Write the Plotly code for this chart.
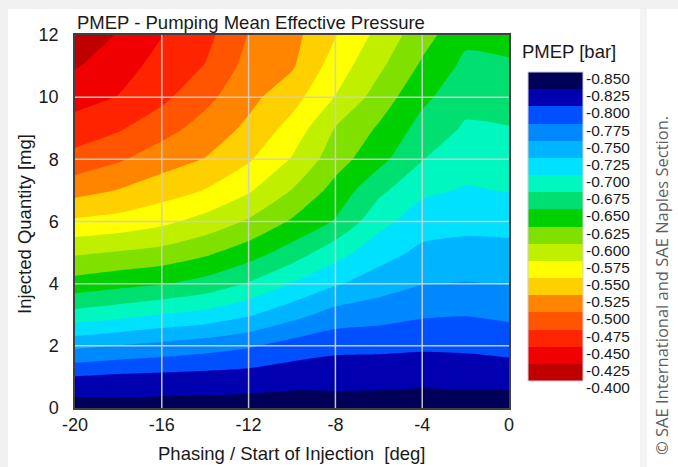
import plotly.graph_objects as go

# ---------------- data ----------------
x_deg = [-20, -18, -16, -14, -12, -10, -8, -6, -4, -2, 0]
y_mg = [0, 1, 2, 3, 4, 5, 6, 7, 8, 9, 10, 11, 12]

# PMEP [bar]; one row per injected quantity (y_mg), one column per phasing (x_deg)
pmep = [
    [-0.838, -0.835, -0.836, -0.836, -0.837, -0.838, -0.836, -0.837, -0.839, -0.838, -0.839],  # 0 mg
    [-0.801, -0.805, -0.807, -0.809, -0.811, -0.815, -0.816, -0.816, -0.817, -0.816, -0.815],  # 1
    [-0.744, -0.751, -0.757, -0.764, -0.772, -0.785, -0.793, -0.794, -0.796, -0.795, -0.791],  # 2
    [-0.684, -0.692, -0.701, -0.708, -0.722, -0.741, -0.760, -0.765, -0.772, -0.774, -0.770],  # 3
    [-0.635, -0.642, -0.648, -0.659, -0.677, -0.701, -0.722, -0.738, -0.749, -0.751, -0.749],  # 4
    [-0.596, -0.602, -0.608, -0.620, -0.638, -0.661, -0.690, -0.714, -0.731, -0.734, -0.733],  # 5
    [-0.554, -0.559, -0.569, -0.584, -0.603, -0.628, -0.652, -0.692, -0.713, -0.717, -0.716],  # 6
    [-0.516, -0.526, -0.538, -0.551, -0.572, -0.601, -0.634, -0.669, -0.695, -0.702, -0.699],  # 7
    [-0.484, -0.497, -0.514, -0.526, -0.547, -0.577, -0.614, -0.642, -0.674, -0.690, -0.687],  # 8
    [-0.460, -0.472, -0.490, -0.510, -0.530, -0.559, -0.601, -0.628, -0.659, -0.678, -0.676],  # 9
    [-0.441, -0.451, -0.469, -0.493, -0.518, -0.540, -0.576, -0.611, -0.644, -0.667, -0.664],  # 10
    [-0.423, -0.438, -0.460, -0.476, -0.509, -0.522, -0.562, -0.595, -0.629, -0.656, -0.653],  # 11
    [-0.405, -0.427, -0.449, -0.467, -0.501, -0.517, -0.549, -0.582, -0.615, -0.644, -0.642],  # 12
]

# contour levels / colour-bar labels (top of colour bar first)
level_values = [-0.850, -0.825, -0.800, -0.775, -0.750, -0.725, -0.700, -0.675, -0.650,
                -0.625, -0.600, -0.575, -0.550, -0.525, -0.500, -0.475, -0.450, -0.425, -0.400]
level_labels = ["-0.850", "-0.825", "-0.800", "-0.775", "-0.750", "-0.725", "-0.700", "-0.675",
                "-0.650", "-0.625", "-0.600", "-0.575", "-0.550", "-0.525", "-0.500", "-0.475",
                "-0.450", "-0.425", "-0.400"]
# band colours, from the -0.850..-0.825 band (top) to the -0.425..-0.400 band (bottom)
band_colors = ["#000058", "#0000b0", "#0050ff", "#0088ff", "#00b4ff", "#00e0ff", "#00f8c0",
               "#00e070", "#00d000", "#80e000", "#c0f000", "#ffff00", "#ffd000", "#ff8400",
               "#ff5400", "#ff2400", "#f00000", "#c00000"]

x_ticks = [-20, -16, -12, -8, -4, 0]
y_ticks = [0, 2, 4, 6, 8, 10, 12]

# ---------------- figure ----------------
W, H = 678, 467
L, R, T, B = 75, 169, 35, 59
PW, PH = W - L - R, H - T - B
CB_TOP, CB_BOT = 72, 381          # colour bar extent, pixels


def px(xp):
    return (xp - L) / PW


def py(yp):
    return (H - B - yp) / PH


# plotted quantity: -PMEP in milli-bar (integers -> exact contour levels), so that
# the colour bar runs -0.850 (top) to -0.400 (bottom)
zplot = [[round(-v * 1000, 3) for v in row] for row in pmep]
lev_pos = [round(-v * 1000) for v in level_values]
nb = len(band_colors)          # 18 bands
start, end, step = min(lev_pos), max(lev_pos), 25

# stepped colourscale: band k (k=1..nb, counted from z=start upward) sampled at k/(nb+1)
colorscale = []
for k in range(nb + 2):
    kk = min(max(k, 1), nb)
    col = band_colors[nb - kk]
    lo = max(0.0, (k - 0.5) / (nb + 1))
    hi = min(1.0, (k + 0.5) / (nb + 1))
    colorscale.append([lo, col])
    colorscale.append([hi, col])

font_main = "Liberation Sans, Arial, sans-serif"
txt = "#1a1a1a"

fig = go.Figure()
fig.add_trace(go.Contour(
    x=x_deg, y=y_mg, z=zplot,
    autocontour=False,
    contours=dict(start=start, end=end, size=step, coloring="fill", showlines=False),
    line=dict(width=0, smoothing=0.6),
    colorscale=colorscale, zmin=start, zmax=end, zauto=False,
    hoverinfo="skip",
    colorbar=dict(
        x=px(528), xanchor="left", xpad=0,
        y=py(CB_BOT), yanchor="bottom", ypad=0,
        len=(CB_BOT - CB_TOP) / PH, lenmode="fraction",
        thickness=55, thicknessmode="pixels",
        tickmode="array", tickvals=lev_pos, ticktext=level_labels,
        ticks="", showticklabels=False,
        outlinewidth=1, outlinecolor="#d0d0d0", borderwidth=0,
    ),
))

shapes = []
# page frame (light grey border of the screenshot)
shapes.append(dict(type="rect", xref="paper", yref="paper", x0=px(0), x1=px(W), y0=py(9), y1=py(0),
                   fillcolor="#f0f0f0", line=dict(width=0), layer="below"))
shapes.append(dict(type="rect", xref="paper", yref="paper", x0=px(0), x1=px(8), y0=py(H), y1=py(0),
                   fillcolor="#f0f0f0", line=dict(width=0), layer="below"))
shapes.append(dict(type="rect", xref="paper", yref="paper", x0=px(640), x1=px(647), y0=py(H), y1=py(9),
                   fillcolor="#f3f3f3", line=dict(width=0), layer="below"))
# grid lines drawn above the filled contours
for xv in x_ticks[1:-1]:
    shapes.append(dict(type="line", xref="x", yref="paper", x0=xv, x1=xv, y0=0, y1=1,
                       line=dict(color="rgba(205,205,205,0.95)", width=1.5), layer="above"))
for yv in y_ticks[1:-1]:
    shapes.append(dict(type="line", xref="paper", yref="y", x0=0, x1=1, y0=yv, y1=yv,
                       line=dict(color="rgba(205,205,205,0.95)", width=1.5), layer="above"))

annotations = [
    dict(text="PMEP - Pumping Mean Effective Pressure", x=0, y=py(23), xref="paper", yref="paper",
         xanchor="left", yanchor="middle", showarrow=False,
         font=dict(family=font_main, size=18.5, color=txt)),
    dict(text="PMEP [bar]", x=px(520), y=py(51), xref="paper", yref="paper",
         xanchor="left", yanchor="middle", showarrow=False,
         font=dict(family=font_main, size=18.5, color=txt)),
    dict(text="Phasing / Start of Injection \u00a0[deg]", x=px(291), y=py(453), xref="paper", yref="paper",
         xanchor="center", yanchor="middle", showarrow=False,
         font=dict(family=font_main, size=18.5, color=txt)),
    dict(text="Injected Quantity [mg]", x=px(24), y=py(224), xref="paper", yref="paper",
         xanchor="center", yanchor="middle", showarrow=False, textangle=-90,
         font=dict(family=font_main, size=18.5, color=txt)),
    dict(text="\u00a9 SAE International and SAE Naples Section.", x=px(661), y=py(286),
         xref="paper", yref="paper", xanchor="center", yanchor="middle", showarrow=False,
         textangle=-90, font=dict(family="Open Sans, sans-serif", size=16.5, color="#606060")),
]
# colour-bar labels: text top level with each band boundary
for v, lab in zip(lev_pos, level_labels):
    ypix = CB_TOP + (end - v) / (end - start) * (CB_BOT - CB_TOP)
    annotations.append(dict(text=lab, x=px(584), y=py(ypix + 6.5), xref="paper", yref="paper",
                            xanchor="left", yanchor="middle", showarrow=False,
                            font=dict(family=font_main, size=15.5, color=txt)))

fig.update_layout(
    width=W, height=H, autosize=False,
    margin=dict(l=L, r=R, t=T, b=B, pad=0),
    paper_bgcolor="white", plot_bgcolor="white",
    showlegend=False,
    shapes=shapes, annotations=annotations,
    xaxis=dict(range=[-20, 0], tickmode="array", tickvals=x_ticks,
               ticktext=[str(v) for v in x_ticks], showgrid=False, zeroline=False,
               showline=True, linecolor="#404040", linewidth=1.5, mirror=True,
               ticks="", ticklabelstandoff=0,
               tickfont=dict(family=font_main, size=18, color=txt)),
    yaxis=dict(range=[0, 12], tickmode="array", tickvals=y_ticks,
               ticktext=[str(v) for v in y_ticks], showgrid=False, zeroline=False,
               showline=True, linecolor="#404040", linewidth=1.5, mirror=True,
               ticks="", ticklabelstandoff=11,
               tickfont=dict(family=font_main, size=18, color=txt)),
)

fig.write_html("out.html")
